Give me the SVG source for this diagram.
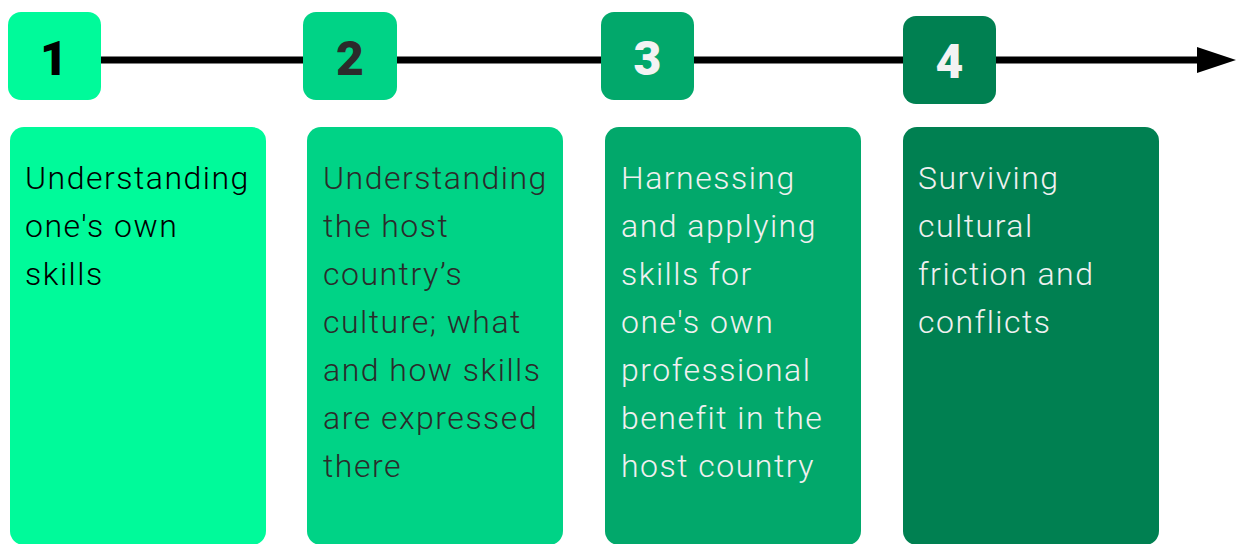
<svg xmlns="http://www.w3.org/2000/svg" width="1238" height="544" viewBox="0 0 1238 544">
  <style>
    .num { font-family: Roboto, "Liberation Sans", sans-serif; font-weight: 900; font-size: 48px; text-anchor: middle; }
    .body { font-family: Roboto, "Liberation Sans", sans-serif; font-weight: 300; font-size: 32px; letter-spacing: 1.5px; }
    .c1 { fill: #00FA9A; }
    .c2 { fill: #00D386; }
    .c3 { fill: #02A86B; }
    .c4 { fill: #008051; }
  </style>
  <rect width="1238" height="544" fill="#ffffff"/>

  <!-- timeline axis -->
  <g id="connectors">
    <line x1="40" y1="60" x2="1200" y2="60" stroke="#000000" stroke-width="7"/>
    <polygon points="1197,47 1236,60 1197,73" fill="#000000"/>
  </g>

  <g id="step1">
    <rect class="c1" x="8" y="12" width="93" height="88" rx="13"/>
    <text class="num" x="54" y="75" fill="#000000">1</text>
    <rect class="c1" x="10" y="127" width="256" height="418" rx="14"/>
    <text class="body" fill="#000000">
      <tspan x="25" y="189">Understanding</tspan>
      <tspan x="25" y="237">one's own</tspan>
      <tspan x="25" y="285">skills</tspan>
    </text>
  </g>

  <g id="step2">
    <rect class="c2" x="303" y="12" width="94" height="88" rx="13"/>
    <text class="num" x="350" y="75" fill="#2b2b2b">2</text>
    <rect class="c2" x="307" y="127" width="256" height="418" rx="14"/>
    <text class="body" fill="#2b2b2b">
      <tspan x="323" y="189">Understanding</tspan>
      <tspan x="323" y="237">the host</tspan>
      <tspan x="323" y="285">country’s</tspan>
      <tspan x="323" y="333">culture; what</tspan>
      <tspan x="323" y="381">and how skills</tspan>
      <tspan x="323" y="429">are expressed</tspan>
      <tspan x="323" y="477">there</tspan>
    </text>
  </g>

  <g id="step3">
    <rect class="c3" x="601" y="12" width="93" height="88" rx="13"/>
    <text class="num" x="647.5" y="75" fill="#f3f3f3">3</text>
    <rect class="c3" x="605" y="127" width="256" height="418" rx="14"/>
    <text class="body" fill="#f0f0f0">
      <tspan x="621" y="189">Harnessing</tspan>
      <tspan x="621" y="237">and applying</tspan>
      <tspan x="621" y="285">skills for</tspan>
      <tspan x="621" y="333">one's own</tspan>
      <tspan x="621" y="381">professional</tspan>
      <tspan x="621" y="429">benefit in the</tspan>
      <tspan x="621" y="477">host country</tspan>
    </text>
  </g>

  <g id="step4">
    <rect class="c4" x="903" y="16" width="93" height="88" rx="13"/>
    <text class="num" x="949.5" y="78" fill="#f3f3f3">4</text>
    <rect class="c4" x="903" y="127" width="256" height="418" rx="14"/>
    <text class="body" fill="#f0f0f0">
      <tspan x="918" y="189">Surviving</tspan>
      <tspan x="918" y="237">cultural</tspan>
      <tspan x="918" y="285">friction and</tspan>
      <tspan x="918" y="333">conflicts</tspan>
    </text>
  </g>
</svg>
